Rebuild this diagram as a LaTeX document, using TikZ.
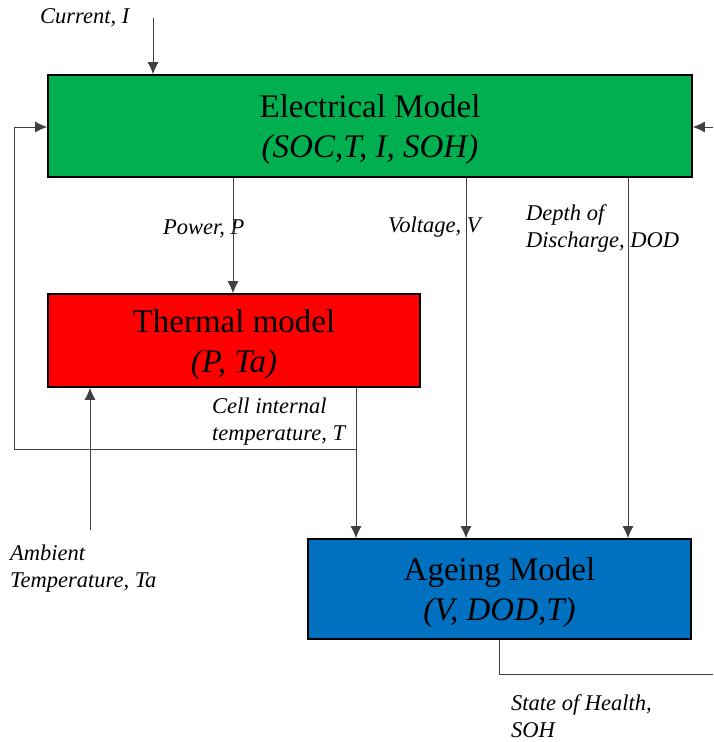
\documentclass[tikz,border=0pt]{standalone}
\usepackage{fontspec}
\setmainfont{Liberation Serif}
\usetikzlibrary{arrows.meta, positioning}

\definecolor{elecgreen}{HTML}{00B050}
\definecolor{thermred}{HTML}{FF0000}
\definecolor{ageblue}{HTML}{0070C0}

\tikzset{
  model/.style={draw=black, line width=1.6pt, inner sep=0pt},
  modeltext/.style={align=center, inner sep=0pt, yshift=-4pt,
                    font=\fontsize{33}{40}\selectfont},
  lbl/.style={font=\fontsize{22.5}{27}\selectfont\itshape, align=left,
              anchor=west, inner sep=0pt},
  link/.style={draw=black!75, line width=1pt, -{Latex[length=12pt,width=11pt]}},
  wire/.style={draw=black!75, line width=1pt},
}

\begin{document}
\begin{tikzpicture}[x=1pt, y=-1pt]
  \useasboundingbox (0,0) rectangle (713,742);

  % 1. Models
  \node[model, fill=elecgreen, minimum width=644pt, minimum height=102pt] (elec)
    at (370,126) {};
  \node[modeltext] (electxt) at (elec.center) {Electrical Model\\\textit{(SOC,T, I, SOH)}};
  \node[model, fill=thermred, minimum width=372pt, minimum height=93pt] (therm)
    at (234,340.5) {};
  \node[modeltext] (thermtxt) at (therm.center) {Thermal model\\\textit{(P, Ta)}};
  \node[model, fill=ageblue, minimum width=383pt, minimum height=100pt] (age)
    at (499.5,589) {};
  \node[modeltext] (agetxt) at (age.center) {Ageing Model\\\textit{(V, DOD,T)}};

  % 2. Labels
  \node[lbl] (curlbl) at (40,18) {Current, I};
  \node[lbl] (powlbl) at (163,229) {Power, P};
  \node[lbl] (voltlbl) at (388,227) {Voltage, V};
  \node[lbl] (dodlbl) at (526,228) {Depth of\\Discharge, DOD};
  \node[lbl] (templbl) at (212,422) {Cell internal\\temperature, T};
  \node[lbl] (amblbl) at (10,569) {Ambient\\Temperature, Ta};
  \node[lbl] (sohlbl) at (511,716) {State of Health,\\SOH};

  % 3. Connection points
  \coordinate (cur) at (153,18);
  \coordinate (pw) at (233,200);
  \coordinate (vt) at (466,200);
  \coordinate (dod) at (628,200);
  \coordinate (rin) at (713,127);
  \coordinate (tout) at (356,449);
  \coordinate (fb) at (14,127);
  \coordinate (amb) at (90,530);
  \coordinate (soh) at (713,674);

  % 4. Signals
  \draw[link] (cur) -- (cur |- elec.north);
  \draw[link] (rin) -- (rin -| elec.east);
  \draw[link] (pw |- elec.south) -- (pw |- therm.north);
  \draw[link] (vt |- elec.south) -- (vt |- age.north);
  \draw[link] (dod |- elec.south) -- (dod |- age.north);
  \draw[link] (tout |- therm.south) -- (tout |- age.north);
  \draw[link] (tout) -| (fb) -- (fb -| elec.west);
  \draw[link] (amb) -- (amb |- therm.south);
  \draw[wire] (age.south) |- (soh);
\end{tikzpicture}
\end{document}
